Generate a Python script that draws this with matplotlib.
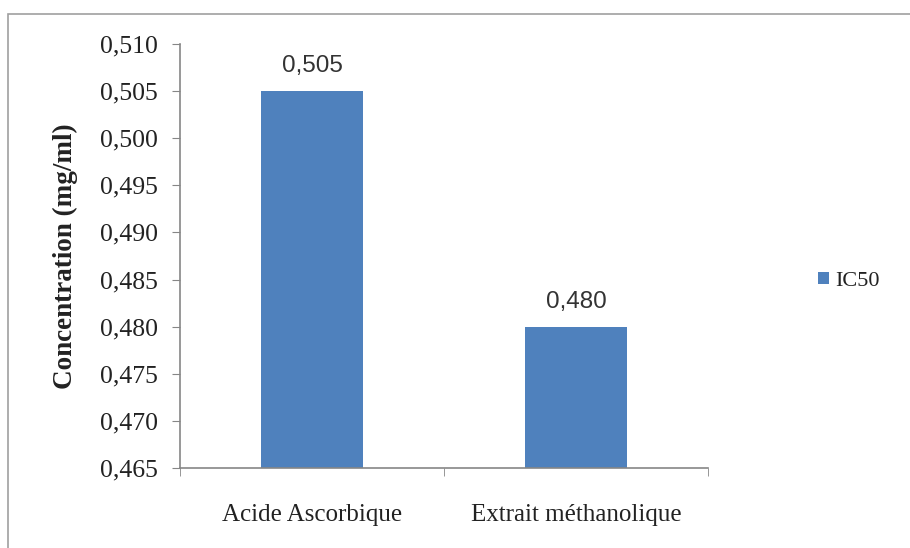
import matplotlib
matplotlib.use('Agg')
import matplotlib.pyplot as plt
from matplotlib.ticker import FuncFormatter, MultipleLocator
from matplotlib.patches import Rectangle

categories = ['Acide Ascorbique', 'Extrait méthanolique']
ic50 = [0.505, 0.480]
series_name = 'IC50'

bar_color = '#4F81BD'
axis_color = '#868686'

fig = plt.figure(figsize=(9.1, 5.48), dpi=100)
fig.patch.set_facecolor('white')

# outer chart frame
fig.patches.append(Rectangle((8 / 910, -0.02), 1.1, 1 - 14 / 548 + 0.02,
                             transform=fig.transFigure, fill=False,
                             edgecolor='#a0a0a0', linewidth=1.2))

ax = fig.add_axes([180 / 910, 1 - 468 / 548, 528 / 910, 424 / 548])

x = range(len(categories))
bars = ax.bar(x, ic50, width=0.39, color=bar_color, label=series_name, zorder=2)

ax.set_xlim(-0.5, len(categories) - 0.5)
ax.set_ylim(0.465, 0.510)
ax.yaxis.set_major_locator(MultipleLocator(0.005))
ax.yaxis.set_major_formatter(FuncFormatter(lambda v, p: f'{v:.3f}'.replace('.', ',')))

ax.set_xticks(list(x))
ax.set_xticklabels(categories, fontfamily='Liberation Serif', fontsize=18, color='#222222')
ax.set_xticks([-0.5, 0.5, 1.5], minor=True)
ax.tick_params(axis='x', which='major', length=0, pad=26)
ax.tick_params(axis='x', which='minor', length=6, color=axis_color, direction='out')
ax.tick_params(axis='y', length=6, color=axis_color, direction='out', pad=10)
for lbl in ax.get_yticklabels():
    lbl.set_fontfamily('Liberation Serif')
    lbl.set_fontsize(18.5)
    lbl.set_color('#222222')

for side in ('top', 'right'):
    ax.spines[side].set_visible(False)
for side in ('left', 'bottom'):
    ax.spines[side].set_color(axis_color)
    ax.spines[side].set_linewidth(1.2)

ax.set_ylabel('Concentration (mg/ml)', fontfamily='Liberation Serif',
              fontsize=19.5, fontweight='bold', color='#222222', labelpad=16)

for rect, v in zip(bars, ic50):
    ax.annotate(f'{v:.3f}'.replace('.', ','),
                (rect.get_x() + rect.get_width() / 2, v),
                xytext=(0, 10), textcoords='offset points',
                ha='center', va='bottom', fontsize=17.5,
                fontfamily='Liberation Sans', color='#333333')

leg = ax.legend(loc='center left', bbox_to_anchor=(1.17, 0.44), frameon=False,
                handlelength=0.5, handleheight=0.5, handletextpad=0.3,
                prop={'family': 'Liberation Serif', 'size': 16})
for t in leg.get_texts():
    t.set_color('#222222')

fig.savefig('out.png', dpi=100)
